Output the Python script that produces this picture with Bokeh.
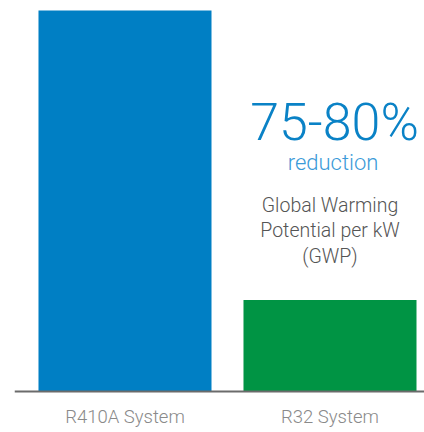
from bokeh.plotting import figure
from bokeh.models import Range1d, Span, Label
from bokeh.embed import file_html
from bokeh.resources import INLINE

# Data
categories = ["R410A System", "R32 System"]
gwp_relative = [100, 24]
bar_colors = ["#007FC4", "#009444"]
headline = "75-80%"
subhead = "reduction"
desc_lines = ["Global Warming", "Potential per kW", "(GWP)"]

FONT = "Roboto Light, Roboto, sans-serif"

p = figure(width=424, height=432, output_backend="svg", toolbar_location=None,
           x_range=Range1d(-0.539, 1.461), y_range=Range1d(-10.76, 102.62),
           x_axis_type=None, y_axis_type=None,
           min_border_left=14, min_border_right=0, min_border_top=0, min_border_bottom=0)
p.outline_line_color = None
p.grid.visible = False
p.background_fill_color = "white"
p.border_fill_color = "white"

xs = list(range(len(categories)))
p.vbar(x=xs, top=gwp_relative, bottom=0, width=0.844, fill_color=bar_colors, line_color=None)

p.add_layout(Span(location=0, dimension="width", line_color="#6b6b6b", line_width=2))

# category labels
for i, c in enumerate(categories):
    p.add_layout(Label(x=i, y=-6.8, text=c, text_align="center", text_baseline="alphabetic",
                       text_font=FONT, text_font_size="18.5px", text_color="#8a8a8a"))

p.add_layout(Label(x=1.022, y=70.7, text=headline, text_align="center", text_baseline="alphabetic",
                   text_font=FONT, text_font_size="52px", text_color="#0A82C6"))
p.add_layout(Label(x=1.015, y=60.1, text=subhead, text_align="center", text_baseline="alphabetic",
                   text_font=FONT, text_font_size="22px", text_color="#3A9AD8"))
for k, (line, yy) in enumerate(zip(desc_lines, [48.9, 42.2, 35.5])):
    p.add_layout(Label(x=1.0, y=yy, text=line, text_align="center", text_baseline="alphabetic",
                       text_font=FONT, text_font_size="19.5px", text_color="#555555"))

open("out.html", "w").write(file_html(p, INLINE))
